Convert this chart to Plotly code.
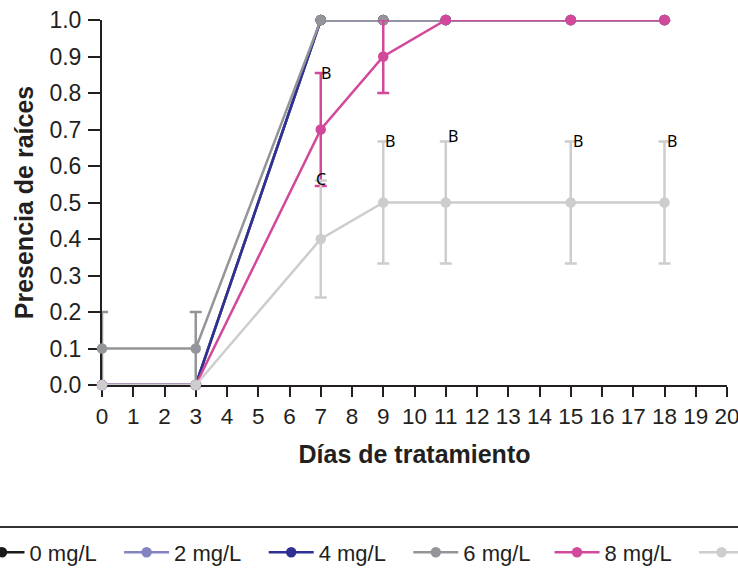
import plotly.graph_objects as go

days = [0, 3, 7, 9, 11, 15, 18]
names = ["0 mg/L", "2 mg/L", "4 mg/L", "6 mg/L", "8 mg/L", "10 mg/L"]
colors = ["#1a1a1a", "#8283bf", "#2e3192", "#939598", "#d2489a", "#cdcdcd"]
values = [
    [0, 0, 1, 1, 1, 1, 1],
    [0, 0, 1, 1, 1, 1, 1],
    [0, 0, 1, 1, 1, 1, 1],
    [0.1, 0.1, 1, 1, 1, 1, 1],
    [0, 0, 0.7, 0.9, 1, 1, 1],
    [0, 0, 0.4, 0.5, 0.5, 0.5, 0.5],
]
errors = [
    None,
    None,
    None,
    [0.1, 0.1, 0, 0, 0, 0, 0],
    [0, 0, 0.155, 0.1, 0, 0, 0],
    [0, 0, 0.16, 0.167, 0.167, 0.167, 0.167],
]
legend_group = ["legend", "legend", "legend", "legend", "legend2", "legend2"]
label_x = [7, 7, 9, 11, 15, 18]
label_y = [0.855, 0.565, 0.668, 0.682, 0.668, 0.668]
label_text = ["B", "C", "B", "B", "B", "B"]
label_anchor = ["left", "center", "left", "left", "left", "left"]

x_ticks = list(range(0, 21))
y_ticks = [round(i * 0.1, 1) for i in range(11)]

fig = go.Figure()
for name, col, vals, err, lg in zip(names, colors, values, errors, legend_group):
    fig.add_trace(go.Scatter(
        x=days, y=vals, name=name, mode="lines+markers", legend=lg,
        line=dict(color=col, width=2.5),
        marker=dict(color=col, size=10.5),
        error_y=(dict(type="data", array=err, visible=True, color=col,
                      thickness=2.5, width=6) if err else None),
        cliponaxis=False,
    ))

for lx, ly, lt, la in zip(label_x, label_y, label_text, label_anchor):
    fig.add_annotation(x=lx, y=ly, text=lt, showarrow=False, xanchor=la,
                       yanchor="middle", xshift=(-2 if la == "left" and lx == 7 else 0),
                       font=dict(family="Noto Sans", size=16, color="black"))

fig.add_shape(type="line", xref="paper", yref="paper",
              x0=-0.3, x1=1.1, y0=-0.389, y1=-0.389,
              line=dict(color="#333333", width=2))

axis_font = dict(family="Liberation Sans, Arial", size=23, color="#231f20")
xaxis_font = dict(family="Liberation Sans, Arial", size=22.5, color="#231f20")
title_font = dict(family="Liberation Sans, Arial", size=25, color="#231f20")
legend_font = dict(family="Liberation Sans, Arial", size=22, color="#231f20")

common_legend = dict(orientation="h", xanchor="left", y=-0.401, yanchor="top",
                     font=legend_font, entrywidth=84.6, entrywidthmode="pixels",
                     itemwidth=45, traceorder="normal", bgcolor="rgba(0,0,0,0)")

fig.update_layout(
    width=738, height=574,
    margin=dict(l=102, r=11, t=20, b=189, autoexpand=False),
    paper_bgcolor="white", plot_bgcolor="white",
    font=dict(family="Liberation Sans, Arial", color="#231f20"),
    showlegend=True,
    legend=dict(common_legend, x=-0.204),
    legend2=dict(common_legend, x=0.716),
    xaxis=dict(range=[0, 20], tickvals=x_ticks, ticktext=[str(v) for v in x_ticks],
               showgrid=False, zeroline=False, showline=True, linecolor="#231f20",
               linewidth=2, ticks="outside", ticklen=10, tickwidth=2,
               tickcolor="#231f20", tickfont=xaxis_font, layer="below traces",
               ticklabeloverflow="allow",
               title=dict(text="<b>Días de tratamiento</b>", font=title_font,
                          standoff=17)),
    yaxis=dict(range=[0, 1], tickvals=y_ticks,
               ticktext=[f"{v:.1f}" for v in y_ticks],
               showgrid=False, zeroline=False, showline=True, linecolor="#231f20",
               linewidth=2, ticks="outside", ticklen=12, tickwidth=2,
               tickcolor="#231f20", tickfont=axis_font, layer="below traces",
               ticklabelstandoff=2, ticklabeloverflow="allow",
               title=dict(text="<b>Presencia de raíces</b>", font=title_font,
                          standoff=9)),
)

fig.write_html("out.html", config={"displayModeBar": False},
               post_script="document.body.style.margin='0';")
